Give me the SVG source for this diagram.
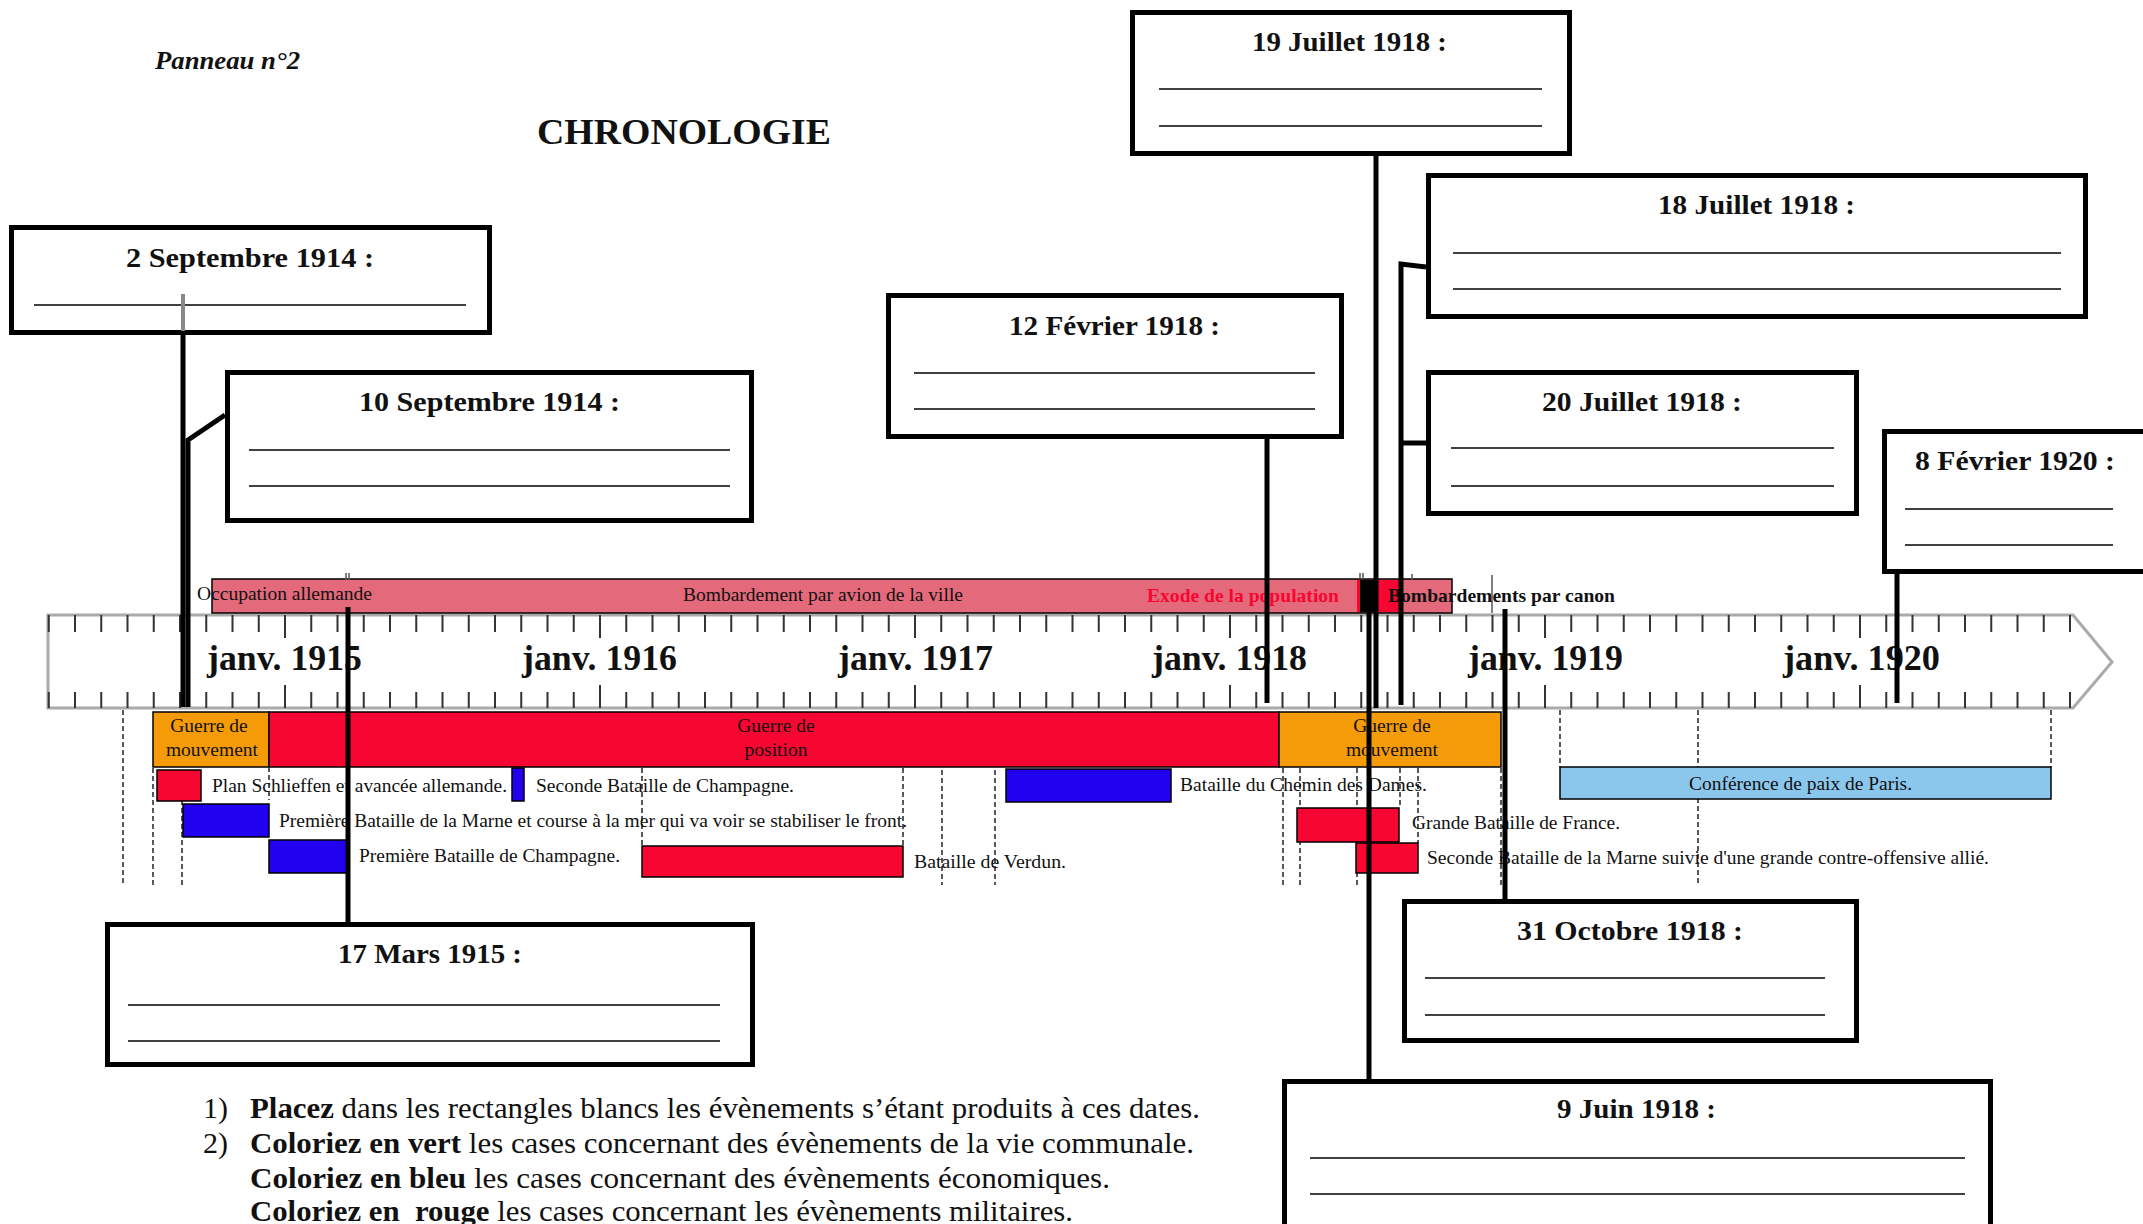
<svg xmlns="http://www.w3.org/2000/svg" width="2143" height="1224" viewBox="0 0 2143 1224">
<defs>
<style>
text{font-family:"Liberation Serif","Times New Roman",serif;fill:#111}
.box{fill:#fff;stroke:#000;stroke-width:5}
.title{font-size:27px;font-weight:bold}
.ul{stroke:#000;stroke-width:1.5}
.lbl{font-size:19.5px}
.ev{stroke:#000;stroke-width:1.5}
.red{fill:#F70631}
.blue{fill:#2200F0}
.orange{fill:#F59B08}
.pink{fill:#E4697A}
.lblue{fill:#8BC7EC}
.dash{stroke:#222;stroke-width:1.5;stroke-dasharray:5 3;fill:none}
.conn{stroke:#000;stroke-width:5;fill:none}
.yr{font-size:35px;font-weight:bold}
.instr{font-size:30px}
</style>
</defs>
<rect x="0" y="0" width="2143" height="1224" fill="#fff"/>

<g id="header">
<text x="155" y="69" font-style="italic" font-weight="bold" font-size="25" textLength="145" lengthAdjust="spacingAndGlyphs">Panneau n°2</text>
<text x="537" y="144" font-weight="bold" font-size="36" textLength="294" lengthAdjust="spacingAndGlyphs">CHRONOLOGIE</text>
</g>

<g id="axis">
<polygon points="48,615 2073,615 2112,662 2073,708 48,708" fill="#fff" stroke="#aaa" stroke-width="3"/>
<line x1="47.75" y1="623.5" x2="2072" y2="623.5" stroke="#333" stroke-width="17" stroke-dasharray="2 24.25"/>
<line x1="47.75" y1="700" x2="2072" y2="700" stroke="#333" stroke-width="16" stroke-dasharray="2 24.25"/>
<path d="M285 615V638M285 685V708M600 615V638M600 685V708M915 615V638M915 685V708M1230 615V638M1230 685V708M1545 615V638M1545 685V708M1860 615V638M1860 685V708" stroke="#333" stroke-width="2"/>
<text class="yr" x="207" y="670" textLength="155" lengthAdjust="spacingAndGlyphs">janv. 1915</text>
<text class="yr" x="522" y="670" textLength="155" lengthAdjust="spacingAndGlyphs">janv. 1916</text>
<text class="yr" x="838" y="670" textLength="155" lengthAdjust="spacingAndGlyphs">janv. 1917</text>
<text class="yr" x="1152" y="670" textLength="155" lengthAdjust="spacingAndGlyphs">janv. 1918</text>
<text class="yr" x="1468" y="670" textLength="155" lengthAdjust="spacingAndGlyphs">janv. 1919</text>
<text class="yr" x="1783" y="670" textLength="157" lengthAdjust="spacingAndGlyphs">janv. 1920</text>
</g>

<g id="town-bar">
<rect x="212" y="579" width="1240" height="34" class="pink"/>
<rect x="1357" y="580" width="3" height="32" fill="#F70631"/>
<rect x="1360" y="580" width="18" height="32" fill="#000"/>
<rect x="1378" y="580" width="22" height="32" fill="#F70631"/>
<rect x="212" y="579" width="1240" height="34" fill="none" stroke="#000" stroke-width="1.5"/>
<path d="M1492 575V613M346 573V580M349 573V580M1360 573V579M1363 573V579M1412 574V580" stroke="#555" stroke-width="1.5"/>
<text class="lbl" x="197" y="600" textLength="175" lengthAdjust="spacingAndGlyphs">Occupation allemande</text>
<text class="lbl" x="683" y="601" textLength="280" lengthAdjust="spacingAndGlyphs">Bombardement par avion de la ville</text>
<text class="lbl" x="1147" y="602" font-weight="bold" style="fill:#F70631" textLength="192" lengthAdjust="spacingAndGlyphs">Exode de la population</text>
<text class="lbl" x="1388" y="602" font-weight="bold" textLength="227" lengthAdjust="spacingAndGlyphs">Bombardements par canon</text>
</g>

<g id="phases">
<rect x="153" y="712" width="116" height="55" class="orange ev"/>
<rect x="269" y="712" width="1010" height="55" class="red ev"/>
<rect x="1279" y="712" width="222" height="55" class="orange ev"/>
<text class="lbl" x="209" y="732" text-anchor="middle">Guerre de</text>
<text class="lbl" x="212" y="756" text-anchor="middle">mouvement</text>
<text class="lbl" x="776" y="732" text-anchor="middle">Guerre de</text>
<text class="lbl" x="776" y="756" text-anchor="middle">position</text>
<text class="lbl" x="1392" y="732" text-anchor="middle">Guerre de</text>
<text class="lbl" x="1392" y="756" text-anchor="middle">mouvement</text>
</g>

<g id="guides">
<path class="dash" d="M123 710V885M153 768V885M182 800V885M269 767V800M642 768V845M903 768V846M942 770V885M995 770V885M1283 768V885M1300 768V885M1357 768V885M1400 768V808M1418 768V843M1501 768V888M1560 710V767M1698 710V885M2051 710V767"/>
</g>

<g id="events">
<g id="ev-schlieffen"><rect x="157" y="770" width="44" height="31" class="red ev"/><text class="lbl" x="212" y="792" textLength="295" lengthAdjust="spacingAndGlyphs">Plan Schlieffen et avancée allemande.</text></g>
<g id="ev-champagne2"><rect x="512" y="768" width="12" height="33" class="blue ev"/><text class="lbl" x="536" y="792" textLength="258" lengthAdjust="spacingAndGlyphs">Seconde Bataille de Champagne.</text></g>
<g id="ev-chemin"><rect x="1006" y="769" width="165" height="33" class="blue ev"/><text class="lbl" x="1180" y="791" textLength="247" lengthAdjust="spacingAndGlyphs">Bataille du Chemin des Dames.</text></g>
<g id="ev-marne1"><rect x="183" y="804" width="86" height="33" class="blue ev"/><text class="lbl" x="279" y="827" textLength="628" lengthAdjust="spacingAndGlyphs">Première Bataille de la Marne et course à la mer qui va voir se stabiliser le front.</text></g>
<g id="ev-grande"><rect x="1297" y="808" width="102" height="34" class="red ev"/><text class="lbl" x="1412" y="829" textLength="208" lengthAdjust="spacingAndGlyphs">Grande Bataille de France.</text></g>
<g id="ev-champagne1"><rect x="269" y="840" width="78" height="33" class="blue ev"/><text class="lbl" x="359" y="862" textLength="261" lengthAdjust="spacingAndGlyphs">Première Bataille de Champagne.</text></g>
<g id="ev-verdun"><rect x="642" y="846" width="261" height="31" class="red ev"/><text class="lbl" x="914" y="868" textLength="152" lengthAdjust="spacingAndGlyphs">Bataille de Verdun.</text></g>
<g id="ev-marne2"><rect x="1356" y="843" width="62" height="30" class="red ev"/><text class="lbl" x="1427" y="864" textLength="562" lengthAdjust="spacingAndGlyphs">Seconde Bataille de la Marne suivie d'une grande contre-offensive allié.</text></g>
<g id="ev-paix"><rect x="1560" y="767" width="491" height="32" class="lblue ev"/><text class="lbl" x="1689" y="790" textLength="223" lengthAdjust="spacingAndGlyphs">Conférence de paix de Paris.</text></g>
</g>

<g id="connectors">
<path class="conn" d="M183 335V707"/>
<path class="conn" d="M225 415L188 440V707"/>
<path class="conn" d="M348 607V922"/>
<path class="conn" d="M1267 439V703"/>
<path class="conn" d="M1376 156V708"/>
<path class="conn" d="M1369 580V1079"/>
<path class="conn" d="M1426 267L1401 264V705"/>
<path class="conn" d="M1426 443H1401"/>
<path class="conn" d="M1505 609V899"/>
<path class="conn" d="M1897 574V703"/>
</g>

<g id="box-2sept1914">
<rect class="box" x="11.5" y="227.5" width="478" height="105"/>
<text class="title" x="126" y="267" textLength="248" lengthAdjust="spacingAndGlyphs">2 Septembre 1914 :</text>
<line class="ul" x1="34" y1="305" x2="466" y2="305"/>
<line x1="183" y1="294" x2="183" y2="331" stroke="#888" stroke-width="4"/>
</g>
<g id="box-10sept1914">
<rect class="box" x="227.5" y="372.5" width="524" height="148"/>
<text class="title" x="359" y="411" textLength="261" lengthAdjust="spacingAndGlyphs">10 Septembre 1914 :</text>
<line class="ul" x1="249" y1="450" x2="730" y2="450"/><line class="ul" x1="249" y1="486" x2="730" y2="486"/>
</g>
<g id="box-12fev1918">
<rect class="box" x="888.5" y="295.5" width="453" height="141"/>
<text class="title" x="1009" y="335" textLength="211" lengthAdjust="spacingAndGlyphs">12 Février 1918 :</text>
<line class="ul" x1="914" y1="373" x2="1315" y2="373"/><line class="ul" x1="914" y1="409" x2="1315" y2="409"/>
</g>
<g id="box-19juil1918">
<rect class="box" x="1132.5" y="12.5" width="437" height="141"/>
<text class="title" x="1252" y="51" textLength="195" lengthAdjust="spacingAndGlyphs">19 Juillet 1918 :</text>
<line class="ul" x1="1159" y1="89" x2="1542" y2="89"/><line class="ul" x1="1159" y1="126" x2="1542" y2="126"/>
</g>
<g id="box-18juil1918">
<rect class="box" x="1428.5" y="175.5" width="657" height="141"/>
<text class="title" x="1658" y="214" textLength="197" lengthAdjust="spacingAndGlyphs">18 Juillet 1918 :</text>
<line class="ul" x1="1453" y1="253" x2="2061" y2="253"/><line class="ul" x1="1453" y1="289" x2="2061" y2="289"/>
</g>
<g id="box-20juil1918">
<rect class="box" x="1428.5" y="372.5" width="428" height="141"/>
<text class="title" x="1542" y="411" textLength="200" lengthAdjust="spacingAndGlyphs">20 Juillet 1918 :</text>
<line class="ul" x1="1451" y1="448" x2="1834" y2="448"/><line class="ul" x1="1451" y1="486" x2="1834" y2="486"/>
</g>
<g id="box-8fev1920">
<rect class="box" x="1884.5" y="431.5" width="263" height="140"/>
<text class="title" x="1915" y="470" textLength="200" lengthAdjust="spacingAndGlyphs">8 Février 1920 :</text>
<line class="ul" x1="1905" y1="509" x2="2113" y2="509"/><line class="ul" x1="1905" y1="545" x2="2113" y2="545"/>
</g>
<g id="box-17mars1915">
<rect class="box" x="107.5" y="924.5" width="645" height="140"/>
<text class="title" x="338" y="963" textLength="184" lengthAdjust="spacingAndGlyphs">17 Mars 1915 :</text>
<line class="ul" x1="128" y1="1005" x2="720" y2="1005"/><line class="ul" x1="128" y1="1041" x2="720" y2="1041"/>
</g>
<g id="box-31oct1918">
<rect class="box" x="1404.5" y="901.5" width="452" height="139"/>
<text class="title" x="1517" y="940" textLength="226" lengthAdjust="spacingAndGlyphs">31 Octobre 1918 :</text>
<line class="ul" x1="1425" y1="978" x2="1825" y2="978"/><line class="ul" x1="1425" y1="1015" x2="1825" y2="1015"/>
</g>
<g id="box-9juin1918">
<rect class="box" x="1284.5" y="1081.5" width="706" height="148"/>
<text class="title" x="1557" y="1118" textLength="159" lengthAdjust="spacingAndGlyphs">9 Juin 1918 :</text>
<line class="ul" x1="1310" y1="1158" x2="1965" y2="1158"/><line class="ul" x1="1310" y1="1194" x2="1965" y2="1194"/>
</g>

<g id="instructions">
<text class="instr" x="203" y="1118">1)</text>
<text class="instr" x="203" y="1153">2)</text>
<text class="instr" x="250" y="1118" textLength="950" lengthAdjust="spacingAndGlyphs"><tspan font-weight="bold">Placez</tspan> dans les rectangles blancs les évènements s’étant produits à ces dates.</text>
<text class="instr" x="250" y="1153" textLength="944" lengthAdjust="spacingAndGlyphs"><tspan font-weight="bold">Coloriez en vert</tspan> les cases concernant des évènements de la vie communale.</text>
<text class="instr" x="250" y="1188" textLength="860" lengthAdjust="spacingAndGlyphs"><tspan font-weight="bold">Coloriez en bleu</tspan> les cases concernant des évènements économiques.</text>
<text class="instr" x="250" y="1221" textLength="823" lengthAdjust="spacingAndGlyphs"><tspan font-weight="bold">Coloriez en&#160; rouge</tspan> les cases concernant les évènements militaires.</text>
</g>
</svg>
